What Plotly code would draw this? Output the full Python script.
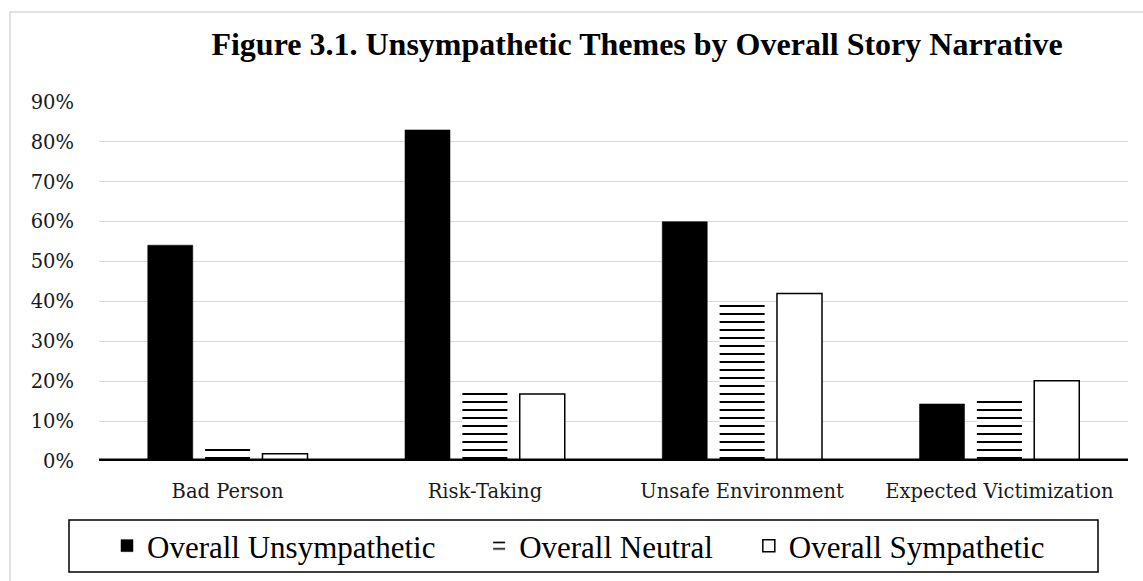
import plotly.graph_objects as go

# Themes on the category axis
categories = ["Bad Person", "Risk-Taking", "Unsafe Environment", "Expected Victimization"]

# Share of stories showing each theme, by overall narrative
unsympathetic = [0.541, 0.830, 0.600, 0.143]
neutral = [0.036, 0.175, 0.396, 0.155]
sympathetic = [0.018, 0.168, 0.420, 0.201]

series_names = ["Overall Unsympathetic", "Overall Neutral", "Overall Sympathetic"]
y_ticks = [0, 0.1, 0.2, 0.3, 0.4, 0.5, 0.6, 0.7, 0.8, 0.9]

W, H = 1143, 581
L, R, T, B = 99, 15, 102, 120
PW, PH = W - L - R, H - T - B


def px_x(x):
    return (x - L) / PW


def px_y(y):
    return 1 - (y - T) / PH


NB = "\u00a0"
fig = go.Figure()
fig.add_trace(go.Bar(
    x=categories, y=unsympathetic, name=series_names[0] + NB * 5,
    marker=dict(color="black", line=dict(color="black", width=0.5)),
))
fig.add_trace(go.Bar(
    x=categories, y=neutral, name=series_names[1] + NB * 4,
    marker=dict(color="white", line=dict(width=0),
                pattern=dict(shape="-", size=8, solidity=0.25, fgopacity=1,
                             fgcolor="black", bgcolor="white")),
))
fig.add_trace(go.Bar(
    x=categories, y=sympathetic, name=series_names[2],
    marker=dict(color="white", line=dict(color="black", width=1.5)),
))

shapes = [
    # outer frame
    dict(type="rect", xref="paper", yref="paper",
         x0=px_x(10), x1=px_x(1170), y0=px_y(620), y1=px_y(12),
         line=dict(color="#d9d9d9", width=1.5), fillcolor="rgba(0,0,0,0)", layer="below"),
    # baseline
    dict(type="line", xref="paper", yref="y", x0=0, x1=1, y0=0, y1=0,
         line=dict(color="black", width=5), layer="above"),
    # legend box
    dict(type="rect", xref="paper", yref="paper",
         x0=px_x(69), x1=px_x(1098), y0=px_y(572), y1=px_y(520),
         line=dict(color="black", width=1.5), fillcolor="rgba(0,0,0,0)"),
]

fig.update_layout(
    width=W, height=H,
    margin=dict(l=L, r=R, t=T, b=B, autoexpand=False),
    paper_bgcolor="white", plot_bgcolor="white",
    barmode="group", bargap=0.331, bargroupgap=0.215,
    title=dict(
        text="<b>Figure 3.1. Unsympathetic Themes by Overall Story Narrative</b>",
        font=dict(family="Liberation Serif", size=32, color="black"),
        x=px_x(637), xref="paper", xanchor="center",
        y=1 - 44 / H, yref="container", yanchor="middle",
    ),
    showlegend=True,
    legend=dict(
        orientation="h", x=px_x(107), xanchor="left", y=px_y(546), yanchor="middle",
        font=dict(family="Liberation Serif", size=31, color="black"),
        bgcolor="rgba(0,0,0,0)", borderwidth=0, traceorder="normal",
    ),
    xaxis=dict(
        showgrid=False, showline=False, zeroline=False, ticks="",
        tickfont=dict(family="DejaVu Serif", size=19.5, color="#1a1a1a"),
        ticklabelstandoff=16,
    ),
    yaxis=dict(
        range=[0, 0.9], tickvals=y_ticks, tickformat=".0%",
        showgrid=True, gridcolor="#d9d9d9", gridwidth=1,
        showline=False, zeroline=False, ticks="",
        tickfont=dict(family="DejaVu Serif", size=19.5, color="#1a1a1a"),
        ticklabelstandoff=24,
    ),
    shapes=shapes,
)

fig.write_html("out.html")
